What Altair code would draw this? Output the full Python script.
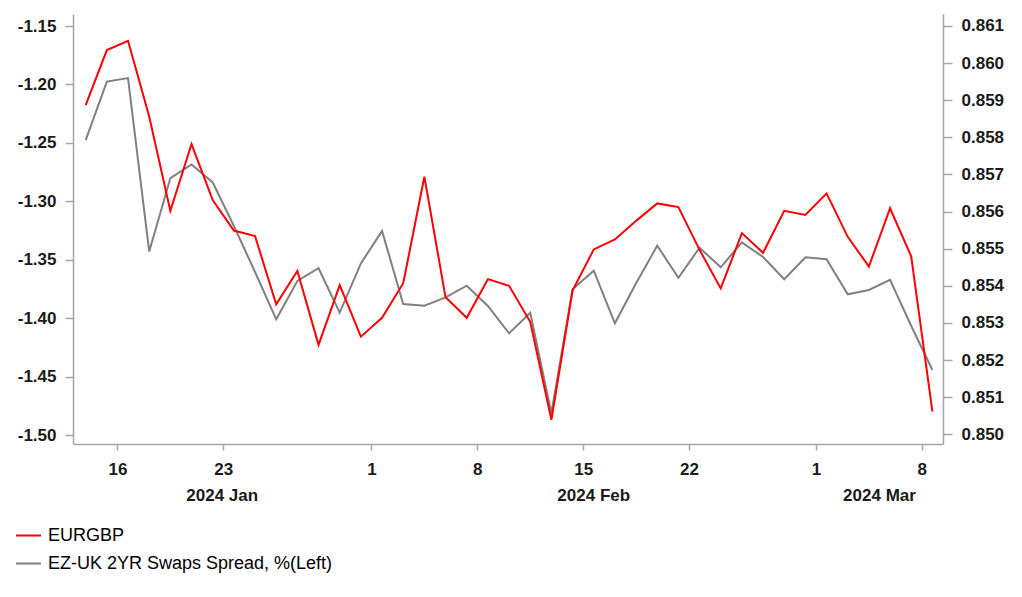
import altair as alt
import pandas as pd

# Business days plotted (one point each)
dates = [
    "2024-01-12", "2024-01-15", "2024-01-16", "2024-01-17", "2024-01-18", "2024-01-19",
    "2024-01-22", "2024-01-23", "2024-01-24", "2024-01-25", "2024-01-26",
    "2024-01-29", "2024-01-30", "2024-01-31", "2024-02-01", "2024-02-02",
    "2024-02-05", "2024-02-06", "2024-02-07", "2024-02-08", "2024-02-09",
    "2024-02-12", "2024-02-13", "2024-02-14", "2024-02-15", "2024-02-16",
    "2024-02-19", "2024-02-20", "2024-02-21", "2024-02-22", "2024-02-23",
    "2024-02-26", "2024-02-27", "2024-02-28", "2024-02-29", "2024-03-01",
    "2024-03-04", "2024-03-05", "2024-03-06", "2024-03-07", "2024-03-08",
]

eurgbp = [
    0.85887, 0.86035, 0.86060, 0.85856, 0.85602, 0.85782,
    0.85631, 0.85549, 0.85534, 0.85350, 0.85440,
    0.85241, 0.85402, 0.85263, 0.85314, 0.85407,
    0.85694, 0.85369, 0.85314, 0.85418, 0.85400,
    0.85303, 0.85039, 0.85387, 0.85498, 0.85525,
    0.85575, 0.85622, 0.85612, 0.85497, 0.85393,
    0.85542, 0.85489, 0.85602, 0.85591, 0.85649,
    0.85532, 0.85452, 0.85609, 0.85479, 0.85061,
]

spread = [
    -1.2476, -1.1975, -1.1945, -1.3430, -1.2801, -1.2685,
    -1.2839, -1.3211, -1.3605, -1.4010, -1.3682,
    -1.3573, -1.3953, -1.3531, -1.3254, -1.3879,
    -1.3893, -1.3822, -1.3722, -1.3896, -1.4130,
    -1.3953, -1.4814, -1.3753, -1.3594, -1.4044,
    -1.3702, -1.3380, -1.3654, -1.3397, -1.3565,
    -1.3351, -1.3477, -1.3667, -1.3479, -1.3496,
    -1.3796, -1.3759, -1.3673, -1.4067, -1.4444,
]

series_names = ["EURGBP", "EZ-UK 2YR Swaps Spread, %(Left)"]
series_colors = ["#ff0000", "#808080"]

tick_dates = ["2024-01-16", "2024-01-23", "2024-02-01", "2024-02-08",
              "2024-02-15", "2024-02-22", "2024-03-01", "2024-03-08"]
tick_labels = ["16", "23", "1", "8", "15", "22", "1", "8"]

month_labels = ["2024 Jan", "2024 Feb", "2024 Mar"]
month_starts = [None, "2024-02-01", "2024-03-01"]

left_ticks = [-1.50, -1.45, -1.40, -1.35, -1.30, -1.25, -1.20, -1.15]
left_tick_labels = ["-1.50", "-1.45", "-1.40", "-1.35", "-1.30", "-1.25", "-1.20", "-1.15"]
right_ticks = [0.850, 0.851, 0.852, 0.853, 0.854, 0.855, 0.856, 0.857, 0.858, 0.859, 0.860, 0.861]

# ---- build tables ----
idx = list(range(len(dates)))
x_domain = [-0.6, len(dates) - 0.5]
tick_values = [dates.index(d) - 0.5 for d in tick_dates]


def lookup_expr(values, labels):
    body = ",".join(f"'{v}':'{l}'" for v, l in zip(values, labels))
    return "{" + body + "}['' + datum.value]"


bounds = [x_domain[0]] + [dates.index(d) - 0.5 for d in month_starts[1:]] + [x_domain[1]]
month_df = pd.DataFrame({
    "label": month_labels,
    "pos": [(bounds[i] + bounds[i + 1]) / 2 for i in range(len(month_labels))],
})

df_red = pd.DataFrame({"idx": idx, "date": dates, "value": eurgbp, "series": series_names[0]})
df_gray = pd.DataFrame({"idx": idx, "date": dates, "value": spread, "series": series_names[1]})

FONT = "Liberation Sans"
AXIS_GREY = "#a6a6a6"
TEXT = "#1a1a1a"

x_enc = alt.X(
    "idx:Q",
    scale=alt.Scale(domain=x_domain, nice=False, zero=False),
    axis=alt.Axis(
        values=tick_values, labelExpr=lookup_expr(tick_values, tick_labels), title=None,
        grid=False, tickSize=6, tickColor=AXIS_GREY, domainColor=AXIS_GREY, domainWidth=1.5,
        tickWidth=1.5, labelFont=FONT, labelFontSize=17, labelFontWeight="bold",
        labelColor=TEXT, labelPadding=11,
    ),
)

color_enc = alt.Color(
    "series:N",
    scale=alt.Scale(domain=series_names, range=series_colors),
    legend=alt.Legend(
        orient="none", legendX=-58, legendY=508, title=None,
        symbolType="stroke", symbolSize=625, symbolStrokeWidth=2,
        labelFont=FONT, labelFontSize=18, labelColor="#000000", labelLimit=0,
        labelOffset=6, rowPadding=5,
    ),
)

gray_line = alt.Chart(df_gray).mark_line(strokeWidth=2).encode(
    x=x_enc,
    y=alt.Y(
        "value:Q",
        scale=alt.Scale(domain=[-1.5077, -1.1397], nice=False, zero=False),
        axis=alt.Axis(
            orient="left", values=left_ticks,
            labelExpr=lookup_expr(left_ticks, left_tick_labels), title=None, grid=False,
            tickSize=8, tickColor=AXIS_GREY, domainColor=AXIS_GREY, domainWidth=1.5,
            tickWidth=1.5, labelFont=FONT, labelFontSize=17, labelFontWeight="bold",
            labelColor=TEXT, labelPadding=9,
        ),
    ),
    color=color_enc,
)

red_line = alt.Chart(df_red).mark_line(strokeWidth=2).encode(
    x=x_enc,
    y=alt.Y(
        "value:Q",
        scale=alt.Scale(domain=[0.849739, 0.861323], nice=False, zero=False),
        axis=alt.Axis(
            orient="right", values=right_ticks, format=".3f", title=None, grid=False,
            tickSize=9, tickColor=AXIS_GREY, domainColor=AXIS_GREY, domainWidth=1.5,
            tickWidth=1.5, labelFont=FONT, labelFontSize=17, labelFontWeight="bold",
            labelColor=TEXT, labelPadding=9,
        ),
    ),
    color=color_enc,
)

months = alt.Chart(month_df).mark_text(
    font=FONT, fontSize=17, fontWeight="bold", color=TEXT, baseline="middle", align="center"
).encode(
    x=alt.X("pos:Q", scale=alt.Scale(domain=x_domain, nice=False, zero=False)),
    y=alt.value(482),
    text="label:N",
)

chart = (
    alt.layer(gray_line, red_line, months)
    .resolve_scale(y="independent")
    .properties(
        width=870, height=430,
        autosize=alt.AutoSizeParams(type="none"),
        padding={"left": 65, "top": 6, "right": 68, "bottom": 140},
        view=alt.ViewBackground(stroke="transparent", strokeWidth=0),
    )
    .configure_view(strokeWidth=0, stroke="transparent")
    .configure(background="white")
)

chart.save("out.html", embed_options={"renderer": "svg", "actions": False})
